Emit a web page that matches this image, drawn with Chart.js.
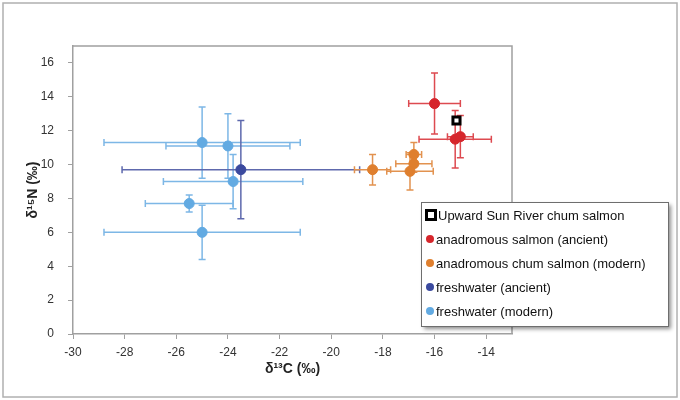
<!DOCTYPE html>
<html>
<head>
<meta charset="utf-8">
<script src="https://cdn.jsdelivr.net/npm/chart.js@4.4.1/dist/chart.umd.min.js"></script>
<style>
  html, body { margin: 0; padding: 0; background: #fff; }
  #wrap { position: relative; width: 680px; height: 400px; }
</style>
</head>
<body>
<div id="wrap"><canvas id="c" width="680" height="400"></canvas></div>
<script>
// ---- data ----
const seriesLabels = [
  "Upward Sun River chum salmon",
  "anadromous salmon (ancient)",
  "anadromous chum salmon (modern)",
  "freshwater (ancient)",
  "freshwater (modern)"
];

const usrX = [-15.15];
const usrY = [12.6];
const usrXErr = [0];
const usrYErr = [0];

const anaAncX = [-16.0, -15.2, -15.0];
const anaAncY = [13.6, 11.5, 11.65];
const anaAncXErr = [1.0, 1.4, 0.5];
const anaAncYErr = [1.8, 1.7, 1.25];

const anaModX = [-18.4, -16.8, -16.8, -16.95];
const anaModY = [9.7, 10.6, 10.05, 9.6];
const anaModXErr = [0.7, 0.3, 0.7, 0.9];
const anaModYErr = [0.9, 0.7, 0.5, 1.1];

const fwAncX = [-23.5];
const fwAncY = [9.7];
const fwAncXErr = [4.6];
const fwAncYErr = [2.9];

const fwModX = [-25.0, -24.0, -23.8, -25.5, -25.0];
const fwModY = [11.3, 11.1, 9.0, 7.7, 6.0];
const fwModXErr = [3.8, 2.4, 2.7, 1.7, 3.8];
const fwModYErr = [2.1, 1.9, 1.6, 0.5, 1.6];

const xTitle = "\u03B4\u00B9\u00B3C (\u2030)";
const yTitle = "\u03B4\u00B9\u2075N (\u2030)";

// ---- build datasets ----
function pts(xs, ys) { return xs.map((x, i) => ({ x: x, y: ys[i] })); }

const datasets = [
  { label: seriesLabels[4], data: pts(fwModX, fwModY), errX: fwModXErr, errY: fwModYErr,
    backgroundColor: '#62AAE2', borderColor: '#62AAE2', errColor: '#7DB7E6', pointStyle: 'circle', pointRadius: 5, order: 5 },
  { label: seriesLabels[3], data: pts(fwAncX, fwAncY), errX: fwAncXErr, errY: fwAncYErr,
    backgroundColor: '#3B4A9F', borderColor: '#3B4A9F', errColor: '#5E69AD', pointStyle: 'circle', pointRadius: 5, order: 4 },
  { label: seriesLabels[2], data: pts(anaModX, anaModY), errX: anaModXErr, errY: anaModYErr,
    backgroundColor: '#DF7F2E', borderColor: '#DF7F2E', errColor: '#E2924F', pointStyle: 'circle', pointRadius: 5, order: 3 },
  { label: seriesLabels[1], data: pts(anaAncX, anaAncY), errX: anaAncXErr, errY: anaAncYErr,
    backgroundColor: '#D6262C', borderColor: '#D6262C', errColor: '#DD4A50', pointStyle: 'circle', pointRadius: 5, order: 2 },
  { label: seriesLabels[0], data: pts(usrX, usrY), errX: usrXErr, errY: usrYErr,
    backgroundColor: '#FFFFFF', borderColor: '#000000', errColor: '#000', pointStyle: 'rect', pointRadius: 5, borderWidth: 3, order: 1 }
];

// ---- plugins ----
const errorBars = {
  id: 'errorBars',
  beforeDatasetsDraw(chart) {
    const ctx = chart.ctx, xs = chart.scales.x, ys = chart.scales.y;
    ctx.save();
    chart.data.datasets.forEach(ds => {
      ds.data.forEach((p, i) => {
        const ex = ds.errX[i], ey = ds.errY[i];
        const px = xs.getPixelForValue(p.x), py = ys.getPixelForValue(p.y);
        ctx.strokeStyle = ds.errColor;
        ctx.lineWidth = 1.5;
        const cap = 3.5;
        ctx.beginPath();
        if (ex > 0) {
          const l = xs.getPixelForValue(p.x - ex), r = xs.getPixelForValue(p.x + ex);
          ctx.moveTo(l, py); ctx.lineTo(r, py);
          ctx.moveTo(l, py - cap); ctx.lineTo(l, py + cap);
          ctx.moveTo(r, py - cap); ctx.lineTo(r, py + cap);
        }
        if (ey > 0) {
          const t = ys.getPixelForValue(p.y + ey), b = ys.getPixelForValue(p.y - ey);
          ctx.moveTo(px, t); ctx.lineTo(px, b);
          ctx.moveTo(px - cap, t); ctx.lineTo(px + cap, t);
          ctx.moveTo(px - cap, b); ctx.lineTo(px + cap, b);
        }
        ctx.stroke();
      });
    });
    ctx.restore();
  }
};

const frame = {
  id: 'frame',
  beforeDraw(chart) {
    const ctx = chart.ctx;
    ctx.save();
    ctx.fillStyle = '#fff';
    ctx.fillRect(0, 0, chart.width, chart.height);
    ctx.strokeStyle = '#B0B0B0';
    ctx.lineWidth = 1.5;
    ctx.strokeRect(3, 3, chart.width - 6, chart.height - 6);
    ctx.restore();
  },
  afterDraw(chart) {
    const ctx = chart.ctx, a = chart.chartArea;
    ctx.save();
    ctx.strokeStyle = '#A0A0A0';
    ctx.lineWidth = 1.5;
    ctx.beginPath();
    ctx.moveTo(a.left, a.top); ctx.lineTo(a.right, a.top); ctx.lineTo(a.right, a.bottom);
    ctx.stroke();
    ctx.restore();
  }
};

const boxLegend = {
  id: 'boxLegend',
  afterDraw(chart) {
    const ctx = chart.ctx;
    const bx = 421, by = 202, bw = 247, bh = 124;
    ctx.save();
    ctx.shadowColor = 'rgba(0,0,0,0.45)';
    ctx.shadowBlur = 4;
    ctx.shadowOffsetX = 3;
    ctx.shadowOffsetY = 3;
    ctx.fillStyle = '#fff';
    ctx.fillRect(bx, by, bw, bh);
    ctx.shadowColor = 'transparent';
    ctx.strokeStyle = '#6E6E6E';
    ctx.lineWidth = 1;
    ctx.strokeRect(bx + 0.5, by + 0.5, bw, bh);
    const order = chart.data.datasets.slice().reverse();
    ctx.font = '13px "Liberation Sans", Arial, sans-serif';
    ctx.textBaseline = 'middle';
    ctx.fillStyle = '#111';
    order.forEach((ds, i) => {
      const cy = by + 13 + i * 24;
      if (ds.pointStyle === 'rect') {
        ctx.fillStyle = '#000';
        ctx.fillRect(425, cy - 6, 12, 12);
        ctx.fillStyle = '#fff';
        ctx.fillRect(428, cy - 3, 6, 6);
      } else {
        ctx.fillStyle = ds.backgroundColor;
        ctx.beginPath();
        ctx.arc(430, cy, 4, 0, Math.PI * 2);
        ctx.fill();
      }
      ctx.fillStyle = '#111';
      ctx.fillText(ds.label, ds.pointStyle === 'rect' ? 438 : 436, cy + 1);
    });
    ctx.restore();
  }
};

const tickFont = { family: '"Liberation Sans", Arial, sans-serif', size: 12 };
const titleFont = { family: '"Liberation Sans", Arial, sans-serif', size: 14, weight: 'bold' };

new Chart(document.getElementById('c'), {
  type: 'scatter',
  data: { datasets: datasets },
  options: {
    responsive: false,
    animation: false,
    layout: { padding: { left: 25, top: 46, right: 168, bottom: 22 } },
    plugins: { legend: { display: false }, tooltip: { enabled: false } },
    scales: {
      x: {
        type: 'linear', min: -30, max: -13,
        ticks: { stepSize: 2, includeBounds: false, color: '#333', font: tickFont, padding: 6, maxRotation: 0 },
        grid: { drawOnChartArea: false, drawTicks: true, tickLength: 5, color: '#A0A0A0', lineWidth: 1 },
        border: { display: true, color: '#A0A0A0', width: 1.5 },
        title: { display: true, text: xTitle, color: '#222', font: titleFont, padding: 0 },
        afterFit(s) { s.height = 44; }
      },
      y: {
        type: 'linear', min: 0, max: 17,
        ticks: { stepSize: 2, includeBounds: false, color: '#333', font: tickFont, padding: 14 },
        grid: { drawOnChartArea: false, drawTicks: true, tickLength: 5, color: '#A0A0A0', lineWidth: 1 },
        border: { display: true, color: '#A0A0A0', width: 1.5 },
        title: { display: true, text: yTitle, color: '#222', font: titleFont, padding: 0 },
        afterFit(s) { s.width = 48; }
      }
    }
  },
  plugins: [frame, errorBars, boxLegend]
});
</script>
</body>
</html>
